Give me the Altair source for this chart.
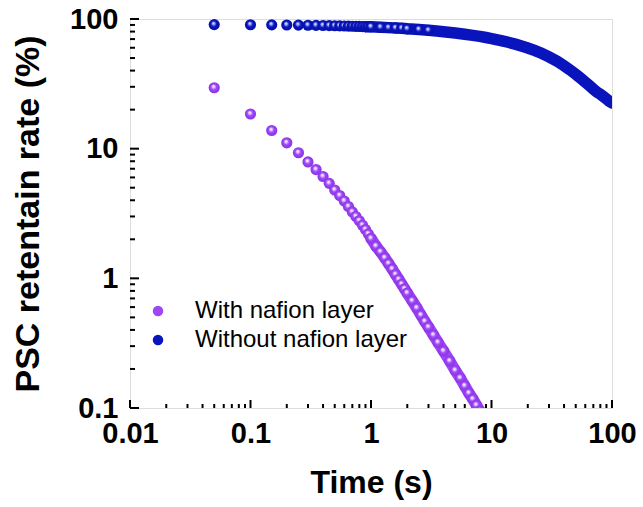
import altair as alt
import pandas as pd

# ---- data ----
series_names = ["With nafion layer", "Without nafion layer"]

t_with = [0.05, 0.1, 0.15, 0.2, 0.25, 0.3, 0.35, 0.4, 0.45, 0.5,
          0.55, 0.6, 0.65, 0.7, 0.75, 0.8, 0.85, 0.9, 0.95, 1.0,
          1.1, 1.2, 1.3, 1.4, 1.5, 1.6, 1.7, 1.8, 1.9, 2.0,
          2.2, 2.4, 2.6, 2.8, 3.0, 3.3, 3.6, 4.0, 4.5, 5.0,
          5.5, 6.0, 6.5, 7.0, 7.5, 8.0, 8.5]
y_with = [29.5, 18.5, 13.8, 11.1, 9.3, 7.9, 6.9, 6.1, 5.4, 4.8,
          4.35, 3.95, 3.58, 3.25, 3.0, 2.78, 2.57, 2.38, 2.2, 2.03,
          1.77, 1.6, 1.44, 1.3, 1.18, 1.07, 0.98, 0.9, 0.83, 0.77,
          0.67, 0.59, 0.52, 0.465, 0.42, 0.365, 0.32, 0.275, 0.23, 0.195,
          0.17, 0.148, 0.13, 0.117, 0.105, 0.095, 0.086]

t_without = [0.05, 0.1, 0.15, 0.2, 0.25, 0.3, 0.35, 0.4, 0.45, 0.5,
             0.55, 0.6, 0.65, 0.7, 0.75, 0.8, 0.85, 0.9, 0.95, 1.0,
             1.2, 1.4, 1.6, 1.8, 2.0, 2.5, 3.0, 3.5, 4.0, 5.0,
             6.0, 7.0, 8.0, 9.0, 10, 12, 14, 16, 18, 20,
             23, 26, 30, 35, 40, 45, 50, 55, 60, 65,
             70, 75, 80, 85, 90, 95, 100]
y_without = [90.5, 90.3, 90.1, 89.9, 89.7, 89.5, 89.3, 89.1, 88.9, 88.7,
             88.5, 88.3, 88.1, 87.9, 87.8, 87.6, 87.4, 87.3, 87.1, 87.0,
             86.4, 85.8, 85.3, 84.8, 84.0, 83.0, 81.8, 80.7, 79.7, 78.0,
             76.3, 74.8, 73.4, 72.0, 70.7, 68.2, 65.9, 63.7, 61.6, 59.7,
             57.0, 54.4, 51.0, 47.2, 43.6, 40.4, 37.5, 34.9, 32.6, 30.6,
             28.8, 27.3, 26.3, 25.2, 24.2, 23.2, 22.5]

x_major = [0.01, 0.1, 1, 10, 100]
x_minor = [0.02, 0.03, 0.04, 0.05, 0.06, 0.07, 0.08, 0.09,
           0.2, 0.3, 0.4, 0.5, 0.6, 0.7, 0.8, 0.9,
           2, 3, 4, 5, 6, 7, 8, 9,
           20, 30, 40, 50, 60, 70, 80, 90]
y_major = [0.1, 1, 10, 100]
y_minor = [0.2, 0.3, 0.4, 0.5, 0.6, 0.7, 0.8, 0.9,
           2, 3, 4, 5, 6, 7, 8, 9,
           20, 30, 40, 50, 60, 70, 80, 90]

colors = ["#9d47f5", "#0a14bd"]
light = ["#e2c8ff", "#9aa6ff"]
dark = ["#8a33e6", "#0510a8"]
band_from = [1.0, 0.9]      # where the markers merge into a continuous band
balls_until = [100, 3.0]    # beyond this the markers are a solid band

W, H = 482, 389
FONT = "Liberation Sans"

df_with = pd.DataFrame({"t": t_with, "y": y_with, "series": series_names[0]})
df_without = pd.DataFrame({"t": t_without, "y": y_without, "series": series_names[1]})

xscale = alt.Scale(type="log", domain=[0.01, 100], nice=False)
yscale = alt.Scale(type="log", domain=[0.1, 100], nice=False)

xaxis = alt.Axis(values=x_major, format="~g", ticks=False, domain=False, grid=False,
                 labelFont=FONT, labelFontSize=29, labelFontWeight="bold", labelColor="black",
                 labelPadding=11, labelOverlap=False, labelFlush=False,
                 title="Time (s)", titleFont=FONT, titleFontSize=32, titleFontWeight="bold",
                 titleColor="black", titlePadding=19)
yaxis = alt.Axis(values=y_major, format="~g", ticks=False, domain=False, grid=False,
                 labelFont=FONT, labelFontSize=29, labelFontWeight="bold", labelColor="black",
                 labelPadding=12, labelOverlap=False, labelFlush=False,
                 title="PSC retentain rate (%)", titleFont=FONT, titleFontSize=34,
                 titleFontWeight="bold", titleColor="black", titlePadding=24)

color_enc = alt.Color("series:N",
                      scale=alt.Scale(domain=series_names, range=colors),
                      legend=alt.Legend(orient="none", legendX=16, legendY=280, title=None,
                                        labelFont=FONT, labelFontSize=24, labelColor="black",
                                        labelLimit=0,
                                        symbolType="circle", symbolSize=110, symbolOpacity=1,
                                        symbolStrokeWidth=0, labelOffset=25, rowPadding=5,
                                        padding=0))


def grad(i):
    return {"gradient": "radial",
            "x1": 0.42, "y1": 0.36, "r1": 0,
            "x2": 0.5, "y2": 0.5, "r2": 0.5,
            "stops": [{"offset": 0, "color": "#ffffff"},
                      {"offset": 0.22, "color": light[i]},
                      {"offset": 0.5, "color": colors[i]},
                      {"offset": 1, "color": dark[i]}]}


def band(df, i):
    return alt.Chart(df).transform_filter(alt.datum.t >= band_from[i]).mark_line(
        color=colors[i], strokeWidth=11.5, strokeCap="round", clip=True).encode(
        x=alt.X("t:Q", scale=xscale, axis=xaxis),
        y=alt.Y("y:Q", scale=yscale, axis=yaxis))


def balls(df, i):
    return alt.Chart(df).transform_filter(alt.datum.t <= balls_until[i]).mark_circle(
        fill=grad(i), size=125, opacity=1, clip=True).encode(
        x=alt.X("t:Q", scale=xscale, axis=xaxis),
        y=alt.Y("y:Q", scale=yscale, axis=yaxis),
        color=color_enc)


def xticks(vals, length):
    return alt.Chart(pd.DataFrame({"v": vals})).mark_rule(color="black", strokeWidth=2).encode(
        x=alt.X("v:Q", scale=xscale, axis=xaxis), y=alt.value(H), y2=alt.value(H - length))


def yticks(vals, length):
    return alt.Chart(pd.DataFrame({"v": vals})).mark_rule(color="black", strokeWidth=2).encode(
        y=alt.Y("v:Q", scale=yscale, axis=yaxis), x=alt.value(0), x2=alt.value(length))


chart = alt.layer(
    xticks(x_minor, 4), xticks(x_major, 8), yticks(y_minor, 5), yticks(y_major, 9),
    band(df_with, 0), balls(df_with, 0),
    band(df_without, 1), balls(df_without, 1),
).properties(
    width=W, height=H,
    autosize=alt.AutoSizeParams(type="none"),
    padding={"left": 130, "top": 19, "right": 31, "bottom": 99},
).configure_view(stroke="black", strokeWidth=3).configure(background="white")

chart.save("out.html", embed_options={"renderer": "svg", "actions": False})
